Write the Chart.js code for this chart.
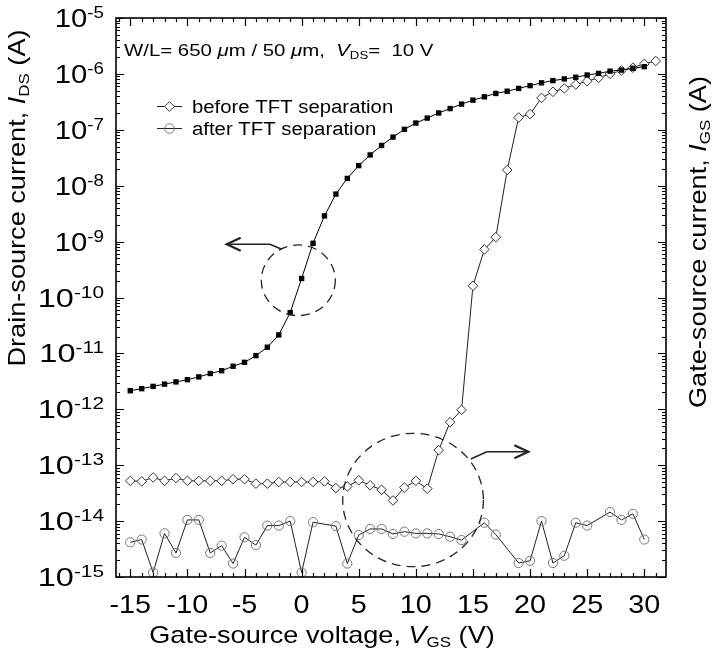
<!DOCTYPE html>
<html>
<head>
<meta charset="utf-8">
<script src="https://cdn.jsdelivr.net/npm/chart.js@4.4.0/dist/chart.umd.min.js"></script>
<style>
  html, body { margin: 0; padding: 0; background: #fff; }
  #grafico { display: block; }
</style>
</head>
<body>
<canvas id="grafico" width="718" height="658"></canvas>
<script>
// Tensiones de puerta (V)
const vgsIds = [-15,-14,-13,-12,-11,-10,-9,-8,-7,-6,-5,-4,-3,-2,-1,0,1,2,3,4,5,6,7,8,9,10,11,12,13,14,15,16,17,18,19,20,21,22,23,24,25,26,27,28,29,30];
const vgsAntes = [-15,-14,-13,-12,-11,-10,-9,-8,-7,-6,-5,-4,-3,-2,-1,0,1,2,3,4,5,6,7,8,9,10,11,12,13,14,15,16,17,18,19,20,21,22,23,24,25,26,27,28,29,30,31];
const vgsDespues = vgsIds;

// Corriente drenador-fuente IDS (A)
const ids = [2.15e-12,2.34e-12,2.57e-12,2.82e-12,3.09e-12,3.39e-12,3.80e-12,4.37e-12,4.90e-12,5.89e-12,
  6.92e-12,9.12e-12,1.29e-11,2.14e-11,5.37e-11,2.19e-10,9.33e-10,2.88e-9,7.08e-9,1.35e-8,
  2.29e-8,3.55e-8,5.25e-8,7.41e-8,1.02e-7,1.32e-7,1.62e-7,2.00e-7,2.40e-7,2.88e-7,
  3.39e-7,3.89e-7,4.47e-7,4.90e-7,5.50e-7,6.17e-7,6.92e-7,7.59e-7,8.13e-7,8.71e-7,
  9.55e-7,1.02e-6,1.12e-6,1.17e-6,1.26e-6,1.35e-6];

// Corriente de puerta IGS antes de la separacion (A)
const igsAntes = [5.25e-14,5.13e-14,6.03e-14,5.25e-14,5.89e-14,5.25e-14,5.25e-14,5.25e-14,5.25e-14,5.62e-14,
  5.62e-14,4.68e-14,4.68e-14,5.01e-14,5.01e-14,5.01e-14,5.01e-14,5.13e-14,3.89e-14,4.17e-14,
  5.37e-14,4.37e-14,3.63e-14,2.34e-14,3.98e-14,5.25e-14,3.80e-14,1.86e-13,5.89e-13,9.77e-13,
  1.62e-10,7.24e-10,1.20e-9,1.91e-8,1.66e-7,1.91e-7,3.72e-7,4.79e-7,5.50e-7,6.46e-7,
  7.41e-7,8.51e-7,1.00e-6,1.15e-6,1.29e-6,1.51e-6,1.70e-6];

// Corriente de puerta IGS despues de la separacion (A), null = sin medida
const igsDespues = [4.17e-15,4.68e-15,1.20e-15,6.03e-15,2.69e-15,1.05e-14,1.05e-14,2.69e-15,3.63e-15,1.74e-15,
  5.13e-15,3.72e-15,8.32e-15,8.32e-15,1.00e-14,1.20e-15,9.55e-15,null,8.13e-15,1.74e-15,
  5.62e-15,7.24e-15,7.24e-15,5.89e-15,6.46e-15,6.03e-15,6.03e-15,5.89e-15,5.25e-15,4.57e-15,
  null,9.33e-15,5.75e-15,null,1.78e-15,1.95e-15,1.00e-14,1.78e-15,2.40e-15,9.33e-15,
  8.32e-15,null,1.45e-14,1.05e-14,1.35e-14,4.68e-15];

const ticksX = [-15,-10,-5,0,5,10,15,20,25,30];
const decadas = [-15,-14,-13,-12,-11,-10,-9,-8,-7,-6,-5];

const FUENTE = "'Liberation Sans', Arial, sans-serif";

// Elipses discontinuas y flechas (coordenadas en V y log10(A))
const anotaciones = {
    elipses: [
        { v: -0.29, lg: -9.692, rv: 3.24, rlg: 0.632 },
        { v: 9.755, lg: -13.623, rv: 6.16, rlg: 1.193 }
    ],
    flechas: [
        { puntos: [[-1.74, -9.138], [-2.77, -9.048], [-6.56, -9.048]], dir: -1 },
        { puntos: [[14.81, -12.889], [16.21, -12.759], [19.85, -12.759]], dir: 1 }
    ]
};

function aPuntos(xs, ys) {
    return xs.map((x, i) => ({ x: x, y: ys[i] }));
}

function anchoRico(ctx, partes, e) {
    let w = 0;
    partes.forEach(p => {
        ctx.font = (p.it ? 'italic ' : '') + p.s + 'px ' + FUENTE;
        w += ctx.measureText(p.t).width * e;
    });
    return w;
}

// Dibuja texto con cursivas y subindices, estirado en horizontal por el factor e
function textoRico(ctx, partes, x, y, align, e) {
    const w = anchoRico(ctx, partes, e);
    let cx = align === 'right' ? x - w : (align === 'center' ? x - w / 2 : x);
    ctx.textAlign = 'left';
    ctx.textBaseline = 'alphabetic';
    partes.forEach(p => {
        ctx.font = (p.it ? 'italic ' : '') + p.s + 'px ' + FUENTE;
        ctx.save();
        ctx.translate(cx, y + (p.dy || 0));
        ctx.scale(e, 1);
        ctx.fillText(p.t, 0, 0);
        ctx.restore();
        cx += ctx.measureText(p.t).width * e;
    });
}

const pluginEjes = {
    id: 'ejes',
    afterDatasetsDraw(chart) {
        const ctx = chart.ctx;
        const a = chart.chartArea;
        const sx = chart.scales.x;
        const sy = chart.scales.y;
        ctx.save();
        ctx.fillStyle = '#000';

        // Anotaciones
        ctx.strokeStyle = '#222';
        ctx.lineWidth = 1.3;
        ctx.setLineDash([9, 6]);
        anotaciones.elipses.forEach(el => {
            const cx = sx.getPixelForValue(el.v);
            const cy = sy.getPixelForValue(Math.pow(10, el.lg));
            const rx = sx.getPixelForValue(el.v + el.rv) - cx;
            const ry = cy - sy.getPixelForValue(Math.pow(10, el.lg + el.rlg));
            ctx.beginPath();
            ctx.ellipse(cx, cy, rx, ry, 0, 0, Math.PI * 2);
            ctx.stroke();
        });
        ctx.setLineDash([]);
        anotaciones.flechas.forEach(f => {
            const pts = f.puntos.map(p => [sx.getPixelForValue(p[0]), sy.getPixelForValue(Math.pow(10, p[1]))]);
            ctx.lineWidth = 1.6;
            ctx.beginPath();
            pts.forEach((p, i) => i === 0 ? ctx.moveTo(p[0], p[1]) : ctx.lineTo(p[0], p[1]));
            ctx.stroke();
            const t = pts[pts.length - 1];
            ctx.lineWidth = 2.2;
            ctx.beginPath();
            ctx.moveTo(t[0] - f.dir * 14, t[1] - 6.5);
            ctx.lineTo(t[0], t[1]);
            ctx.lineTo(t[0] - f.dir * 14, t[1] + 6.5);
            ctx.stroke();
        });

        // Marco
        ctx.strokeStyle = '#000';
        ctx.lineWidth = 1.6;
        ctx.strokeRect(a.left, a.top, a.right - a.left, a.bottom - a.top);

        // Marcas del eje x (hacia dentro)
        ctx.lineWidth = 1.2;
        ctx.beginPath();
        for (let v = Math.ceil(sx.min); v <= sx.max; v++) {
            const px = Math.round(sx.getPixelForValue(v)) + 0.5;
            const largo = v % 5 === 0 ? 8 : 4;
            ctx.moveTo(px, a.bottom); ctx.lineTo(px, a.bottom - largo);
            ctx.moveTo(px, a.top); ctx.lineTo(px, a.top + largo);
        }
        // Marcas del eje y logaritmico
        decadas.forEach(d => {
            for (let m = 1; m < 10; m++) {
                if (d === -5 && m > 1) break;
                const py = Math.round(sy.getPixelForValue(m * Math.pow(10, d))) + 0.5;
                const largo = m === 1 ? 8 : 4;
                ctx.moveTo(a.left, py); ctx.lineTo(a.left + largo, py);
                ctx.moveTo(a.right, py); ctx.lineTo(a.right - largo, py);
            }
        });
        ctx.stroke();

        // Etiquetas del eje y
        decadas.forEach(d => {
            const py = sy.getPixelForValue(Math.pow(10, d));
            const partes = [{ t: '10', s: 25 }, { t: String(d), s: 16, dy: -9 }];
            textoRico(ctx, partes, 104, py + 9, 'right', d <= -10 ? 1.3 : 1.17);
        });
        // Etiquetas del eje x
        ticksX.forEach(v => {
            textoRico(ctx, [{ t: String(v), s: 25 }], sx.getPixelForValue(v), 613, 'center', 1.15);
        });

        // Titulos de ejes
        const tituloX = [{ t: 'Gate-source voltage, ', s: 24 }, { t: 'V', s: 24, it: true },
            { t: 'GS', s: 15, dy: 4 }, { t: ' (V)', s: 24 }];
        textoRico(ctx, tituloX, 322, 643, 'center', 1.13);

        ctx.save();
        ctx.translate(25, 198);
        ctx.rotate(-Math.PI / 2);
        textoRico(ctx, [{ t: 'Drain-source current, ', s: 24 }, { t: 'I', s: 24, it: true },
            { t: 'DS', s: 15, dy: 4 }, { t: ' (A)', s: 24 }], 0, 0, 'center', 1.13);
        ctx.restore();

        ctx.save();
        ctx.translate(706, 242);
        ctx.rotate(-Math.PI / 2);
        textoRico(ctx, [{ t: 'Gate-source current, ', s: 24 }, { t: 'I', s: 24, it: true },
            { t: 'GS', s: 15, dy: 4 }, { t: ' (A)', s: 24 }], 0, 0, 'center', 1.13);
        ctx.restore();

        // Condiciones de medida
        textoRico(ctx, [{ t: 'W/L= 650 ', s: 17 }, { t: 'μ', s: 17, it: true }, { t: 'm / 50 ', s: 17 },
            { t: 'μ', s: 17, it: true }, { t: 'm,  ', s: 17 }, { t: 'V', s: 17, it: true },
            { t: 'DS', s: 11, dy: 3 }, { t: '=  10 V', s: 17 }], 124, 56, 'left', 1.2);

        // Leyenda
        const filas = [
            { y: 106, estilo: 'rectRot', texto: 'before TFT separation', borde: '#333', fondo: '#fff' },
            { y: 128, estilo: 'circle', texto: 'after TFT separation', borde: '#777', fondo: 'rgba(0,0,0,0)' }
        ];
        filas.forEach(f => {
            ctx.strokeStyle = '#222';
            ctx.lineWidth = 1;
            ctx.beginPath();
            ctx.moveTo(157, f.y + 0.5); ctx.lineTo(182, f.y + 0.5);
            ctx.stroke();
            ctx.fillStyle = f.fondo;
            ctx.strokeStyle = f.borde;
            Chart.helpers.drawPoint(ctx, { pointStyle: f.estilo, radius: 4.8, borderWidth: 1 }, 169.5, f.y + 0.5);
            ctx.fillStyle = '#000';
            textoRico(ctx, [{ t: f.texto, s: 18 }], 192, f.y + 6.5, 'left', 1.13);
        });

        ctx.restore();
    }
};

const ctx = document.getElementById('grafico').getContext('2d');
new Chart(ctx, {
    type: 'scatter',
    data: {
        datasets: [
            {
                label: 'IDS',
                data: aPuntos(vgsIds, ids),
                showLine: true,
                borderColor: '#000',
                borderWidth: 1,
                pointStyle: 'rect',
                pointRadius: 3.8,
                pointBackgroundColor: '#000',
                pointBorderColor: '#000',
                pointBorderWidth: 0
            },
            {
                label: 'before TFT separation',
                data: aPuntos(vgsAntes, igsAntes),
                showLine: true,
                borderColor: '#222',
                borderWidth: 1,
                pointStyle: 'rectRot',
                pointRadius: 4.8,
                pointBackgroundColor: '#fff',
                pointBorderColor: '#333',
                pointBorderWidth: 1
            },
            {
                label: 'after TFT separation',
                data: aPuntos(vgsDespues, igsDespues),
                showLine: true,
                spanGaps: true,
                borderColor: '#222',
                borderWidth: 1,
                pointStyle: 'circle',
                pointRadius: 4.6,
                pointBackgroundColor: 'rgba(0,0,0,0)',
                pointBorderColor: '#777',
                pointBorderWidth: 1
            }
        ]
    },
    options: {
        responsive: false,
        animation: false,
        devicePixelRatio: 1,
        layout: { padding: { left: 116, right: 52, top: 18, bottom: 81 } },
        plugins: {
            legend: { display: false },
            tooltip: { enabled: false }
        },
        scales: {
            x: { type: 'linear', min: -16.25, max: 31.9, display: false },
            y: { type: 'logarithmic', min: 1e-15, max: 1e-5, display: false }
        }
    },
    plugins: [pluginEjes]
});
</script>
</body>
</html>
